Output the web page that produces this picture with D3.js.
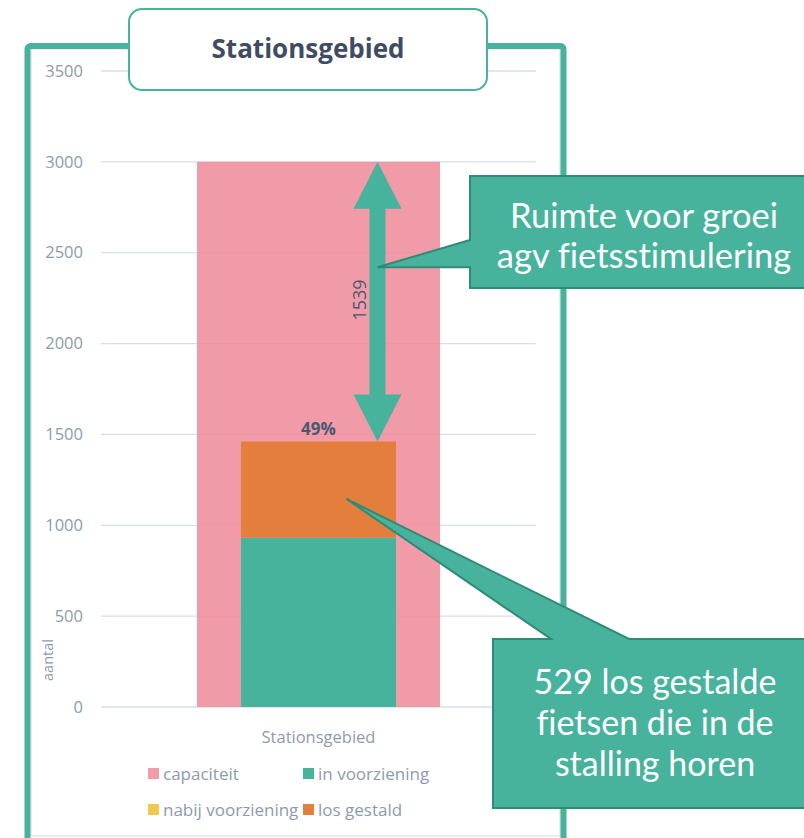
<!DOCTYPE html>
<html>
<head>
<meta charset="utf-8">
<script src="https://cdn.jsdelivr.net/npm/d3@7"></script>
<style>
  body { margin: 0; background: #fff; }
  svg { display: block; }
  text { font-variant-ligatures: none; }
</style>
</head>
<body>
<script>
// data
var categories = ["Stationsgebied"];
var capaciteit = [3000];
var inVoorziening = [932];
var nabijVoorziening = [0];
var losGestald = [529];
var yTicks = [0, 500, 1000, 1500, 2000, 2500, 3000, 3500];
var legendItems = ["capaciteit", "in voorziening", "nabij voorziening", "los gestald"];
var legendColors = ["#F29CA8", "#47B39D", "#F2C94C", "#E37E3D"];

var teal = "#47B39D", tealDark = "#2F8A76";
var labelGrey = "#8E9AB0", darkText = "#3F4C62";

var W = 804, H = 838;
var plot = {left: 101, right: 536, top: 71, bottom: 707};

var svg = d3.select("body").append("svg")
  .attr("width", W)
  .attr("height", H);

//outer teal frame and inner chart area border
svg.append("rect")
  .attr("x", 31).attr("y", 49).attr("width", 529).attr("height", 787)
  .attr("fill", "#fff").attr("stroke", "#D9D9D9").attr("stroke-width", 1);
svg.append("rect")
  .attr("x", 27.5).attr("y", 46).attr("width", 536).attr("height", 900)
  .attr("rx", 3)
  .attr("fill", "none").attr("stroke", teal).attr("stroke-width", 6);

var y = d3.scaleLinear().domain([0, 3500]).range([plot.bottom, plot.top]);
var xOuter = d3.scaleBand().domain(categories).range([plot.left, plot.right]).paddingOuter(0.395);
var xInner = d3.scaleBand().domain(categories).range([plot.left, plot.right]).paddingOuter(0.903);

//gridlines
svg.append("g")
  .selectAll("line")
  .data(yTicks)
  .join("line")
  .attr("x1", plot.left).attr("x2", plot.right)
  .attr("y1", function(d){ return y(d); })
  .attr("y2", function(d){ return y(d); })
  .attr("stroke", "#D9DEE6").attr("stroke-width", 1.3);

//y axis labels
var yAxis = svg.append("g")
  .attr("transform", "translate(" + (plot.left - 18) + ",0)")
  .call(d3.axisLeft(y).tickValues(yTicks).tickFormat(d3.format("d")).tickSize(0).tickPadding(0));
yAxis.select(".domain").remove();
yAxis.selectAll("text")
  .attr("fill", labelGrey)
  .style("font-family", "'Open Sans', sans-serif")
  .style("font-size", "16.5px");

svg.append("text")
  .attr("transform", "translate(53,660) rotate(-90)")
  .style("text-anchor", "middle")
  .style("font-family", "'Open Sans', sans-serif")
  .style("font-size", "14.5px")
  .attr("fill", labelGrey)
  .text("aantal");

//capacity bar (semi transparent, grid shows through)
svg.append("g")
  .selectAll("rect")
  .data(categories)
  .join("rect")
  .attr("x", function(d){ return xOuter(d); })
  .attr("width", xOuter.bandwidth())
  .attr("y", function(d, i){ return y(capaciteit[i]); })
  .attr("height", function(d, i){ return y(0) - y(capaciteit[i]); })
  .attr("fill", "#EF8A9A").attr("fill-opacity", 0.85);

//stacked bars
var stackRows = categories.map(function(c, i){
  return {cat: c, inv: inVoorziening[i], nabij: nabijVoorziening[i], los: losGestald[i]};
});
var stack = d3.stack().keys(["inv", "nabij", "los"])(stackRows);
var stackColors = {inv: legendColors[1], nabij: legendColors[2], los: legendColors[3]};

svg.append("g")
  .selectAll("g")
  .data(stack)
  .join("g")
  .attr("fill", function(s){ return stackColors[s.key]; })
  .selectAll("rect")
  .data(function(s){ return s; })
  .join("rect")
  .attr("x", function(d){ return xInner(d.data.cat); })
  .attr("width", xInner.bandwidth())
  .attr("y", function(d){ return y(d[1]); })
  .attr("height", function(d){ return y(d[0]) - y(d[1]); });

//x axis label
svg.append("text")
  .attr("x", xOuter(categories[0]) + xOuter.bandwidth() / 2)
  .attr("y", 743)
  .style("text-anchor", "middle")
  .style("font-family", "'Open Sans', sans-serif")
  .style("font-size", "16.5px")
  .attr("fill", labelGrey)
  .text(categories[0]);

//percentage label
var total = inVoorziening[0] + nabijVoorziening[0] + losGestald[0];
var cx = xInner(categories[0]) + xInner.bandwidth() / 2;
svg.append("text")
  .attr("x", cx)
  .attr("y", y(total) - 7)
  .style("text-anchor", "middle")
  .style("font-family", "'Open Sans', sans-serif")
  .style("font-weight", "bold")
  .style("font-size", "17px")
  .attr("fill", "#4A5870")
  .text(Math.round(total / capaciteit[0] * 100) + "%");

//double arrow between capacity and occupancy
var ax = cx + 59, yTop = y(capaciteit[0]), yBot = y(total);
var head = 47, hw = 24, sw = 8;
svg.append("path")
  .attr("d", "M" + ax + "," + yTop +
    " L" + (ax + hw) + "," + (yTop + head) +
    " L" + (ax + sw) + "," + (yTop + head) +
    " L" + (ax + sw) + "," + (yBot - head) +
    " L" + (ax + hw) + "," + (yBot - head) +
    " L" + ax + "," + yBot +
    " L" + (ax - hw) + "," + (yBot - head) +
    " L" + (ax - sw) + "," + (yBot - head) +
    " L" + (ax - sw) + "," + (yTop + head) +
    " L" + (ax - hw) + "," + (yTop + head) + " Z")
  .attr("fill", teal);

svg.append("text")
  .attr("transform", "translate(" + (ax - 11.5) + "," + y(2240) + ") rotate(-90)")
  .style("text-anchor", "middle")
  .style("font-family", "'Open Sans', sans-serif")
  .style("font-size", "18px")
  .attr("fill", "#4A5870")
  .text(capaciteit[0] - total);

//callout 1
var t1x = ax, t1y = y(2420);
svg.append("path")
  .attr("d", "M470,176 H812 V288 H470 V" + t1y + " L" + t1x + "," + t1y + " L470,240 Z")
  .attr("fill", teal).attr("stroke", tealDark).attr("stroke-width", 2);
svg.append("text")
  .style("text-anchor", "middle")
  .style("font-family", "Lato, sans-serif")
  .style("font-size", "34.5px")
  .attr("fill", "#fff")
  .selectAll("tspan")
  .data(["Ruimte voor groei", "agv fietsstimulering"])
  .join("tspan")
  .attr("x", 644)
  .attr("y", function(d, i){ return 228 + i * 40; })
  .text(function(d){ return d; });

//callout 2
var t2x = cx + 28, t2y = y(1145);
svg.append("path")
  .attr("d", "M493,639 H551 L" + t2x + "," + t2y + " L629,639 H812 V808 H493 Z")
  .attr("fill", teal).attr("stroke", tealDark).attr("stroke-width", 2);
svg.append("text")
  .style("text-anchor", "middle")
  .style("font-family", "Lato, sans-serif")
  .style("font-size", "34px")
  .attr("fill", "#fff")
  .selectAll("tspan")
  .data([losGestald[0] + " los gestalde", "fietsen die in de", "stalling horen"])
  .join("tspan")
  .attr("x", 655)
  .attr("y", function(d, i){ return 694 + i * 41; })
  .text(function(d){ return d; });

//legend
var legend = svg.append("g")
  .selectAll("g")
  .data(legendItems)
  .join("g")
  .attr("transform", function(d, i){
    return "translate(" + (i % 2 ? 303 : 148) + "," + (i < 2 ? 774 : 810) + ")";
  });
legend.append("rect")
  .attr("x", 0).attr("y", -6).attr("width", 11).attr("height", 11)
  .attr("fill", function(d, i){ return legendColors[i]; });
legend.append("text")
  .attr("x", 15).attr("y", 6)
  .style("font-family", "'Open Sans', sans-serif")
  .style("font-size", "17px")
  .attr("fill", labelGrey)
  .text(function(d){ return d; });

//title box
svg.append("rect")
  .attr("x", 129).attr("y", 9).attr("width", 358).attr("height", 81)
  .attr("rx", 13)
  .attr("fill", "#fff").attr("stroke", teal).attr("stroke-width", 2);
svg.append("text")
  .attr("x", 308).attr("y", 58)
  .style("text-anchor", "middle")
  .style("font-family", "'Open Sans', sans-serif")
  .style("font-weight", "bold")
  .style("font-size", "26px")
  .attr("fill", darkText)
  .text("Stationsgebied");
</script>
</body>
</html>
